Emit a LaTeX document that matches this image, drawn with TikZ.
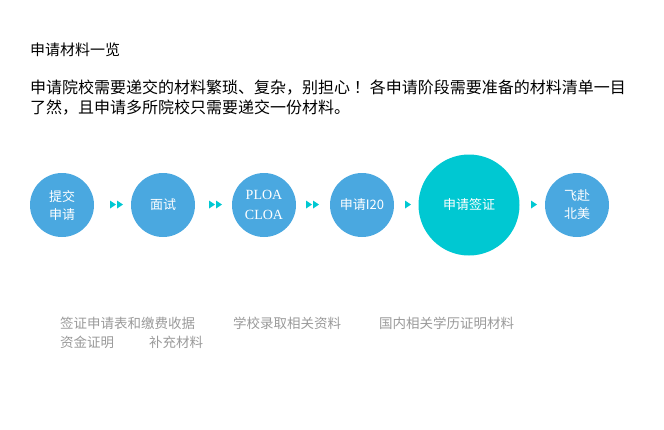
\documentclass[tikz,border=0pt]{standalone}
\usepackage{fontspec}
\newfontfamily\cjk{Noto Sans CJK SC}
\newfontfamily\serifcjk{Liberation Serif}
\definecolor{cblue}{HTML}{4AA8E0}
\definecolor{ccyan}{HTML}{00C8D2}
\definecolor{cgray}{HTML}{9A9A9A}
\begin{document}
\begin{tikzpicture}[x=1pt,y=-1pt,
  stepc/.style={circle,fill=cblue,minimum size=64pt,inner sep=0pt,text=white,font=\cjk\fontsize{13}{18}\selectfont,align=center},
  tri/.style={fill=ccyan,draw=none},
  txt/.style={anchor=west,inner sep=0pt,font=\cjk\fontsize{16}{20}\selectfont},
  gtxt/.style={anchor=west,inner sep=0pt,text=cgray,font=\cjk\fontsize{13.5}{16}\selectfont}]
\useasboundingbox (0,0) rectangle (664,429);
\node[txt,font=\cjk\fontsize{15}{16}\selectfont] (t) at (30,50) {申请材料一览};
\node[txt] (p1) at (30,88) {申请院校需要递交的材料繁琐、复杂，别担心 ！各申请阶段需要准备的材料清单一目};
\node[txt] (p2) at (30,108) {了然，且申请多所院校只需要递交一份材料。};
\node[stepc] (a) at (62,205) {提交\\申请};
\node[stepc] (b) at (163,205) {面试};
\node[stepc,font=\serifcjk\fontsize{14}{20}\selectfont] (c) at (264,205) {PLOA\\CLOA};
\node[stepc] (d) at (362,205) {申请I20};
\node[stepc,fill=ccyan,minimum size=101pt] (e) at (469,205) {申请签证};
\node[stepc] (f) at (577,205) {飞赴\\北美};
\foreach \x in {110,117,209,216,306,313,405,531}
  \fill[tri] (\x,200.5) -- (\x+6,204.5) -- (\x,208.5) -- cycle;
\node[gtxt] (g1) at (60,323) {签证申请表和缴费收据};
\node[gtxt] (g2) at (233,323) {学校录取相关资料};
\node[gtxt] (g3) at (379,323) {国内相关学历证明材料};
\node[gtxt] (g4) at (60,342) {资金证明};
\node[gtxt] (g5) at (149,342) {补充材料};
\end{tikzpicture}
\end{document}
